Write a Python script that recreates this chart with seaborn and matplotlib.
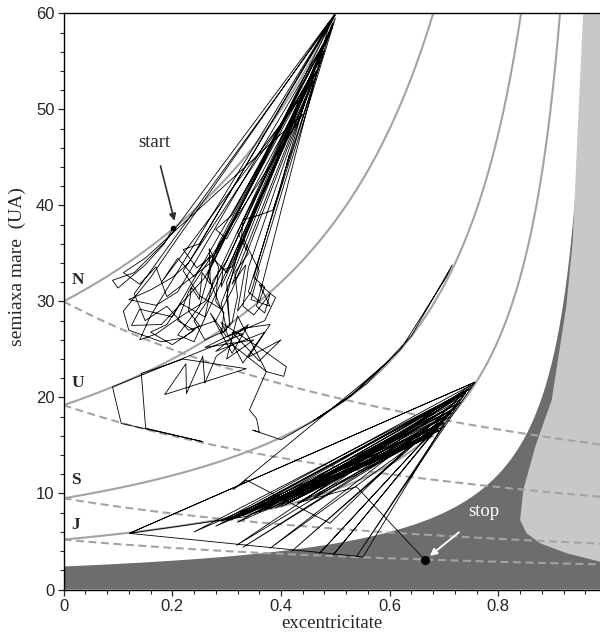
import numpy as np
import pandas as pd
import matplotlib
matplotlib.use("Agg")
import matplotlib.pyplot as plt
from matplotlib.ticker import MultipleLocator, FuncFormatter
import seaborn as sns

# ---------------- data ----------------
planet_names = ["J", "S", "U", "N"]
planet_a = [5.2, 9.5, 19.2, 30.0]          # semi-major axes of the giant planets (UA)
planet_label_a = [6.7, 11.4, 21.5, 32.2]   # where the letters sit

dark_q = 2.4   # perihelion limit of the dark zone

light_e = [0.956, 0.945, 0.937, 0.925, 0.898, 0.868, 0.846, 0.840, 0.852, 0.877, 0.926, 0.987, 1.05, 1.05]
light_a = [60.0, 46.8, 36.4, 29.5, 19.7, 14.9, 10.4, 7.24, 5.85, 4.81, 3.77, 2.90, 2.80, 60.0]

traj_e = [
    0.201, 0.185, 0.15, 0.10, 0.09, 0.13, 0.19, 0.50,
    0.23, 0.20, 0.16, 0.12, 0.17, 0.21, 0.485,
    0.26, 0.22, 0.18, 0.125, 0.14, 0.20, 0.47,
    0.27, 0.24, 0.26, 0.30, 0.29, 0.495,
    0.30, 0.27, 0.24, 0.21, 0.18, 0.46,
    0.33, 0.31, 0.28, 0.23, 0.19, 0.15, 0.13, 0.50,
    0.25, 0.22, 0.245, 0.28, 0.48,
    0.34, 0.36, 0.37, 0.35, 0.445,
    0.29, 0.293, 0.31, 0.327, 0.33, 0.36, 0.385, 0.40, 0.416, 0.41, 0.49,
    0.32, 0.30, 0.306, 0.30, 0.475,
    0.26, 0.22, 0.17, 0.14, 0.16, 0.50,
    0.27, 0.25, 0.21, 0.24, 0.455,
    0.34, 0.33, 0.35, 0.38, 0.37, 0.355, 0.49,
    0.20, 0.16, 0.11, 0.12, 0.18, 0.22, 0.25,
    0.23, 0.235, 0.25, 0.255, 0.27, 0.268, 0.285, 0.28, 0.295, 0.29, 0.31,
    0.32, 0.315, 0.34, 0.32, 0.47, 0.30, 0.28, 0.31, 0.48, 0.27, 0.19, 0.17,
    0.14, 0.11, 0.15, 0.44, 0.23, 0.21, 0.24, 0.20, 0.16, 0.19, 0.215, 0.26,
    0.275, 0.30, 0.495, 0.285, 0.265, 0.29, 0.25, 0.22, 0.465, 0.31, 0.335,
    0.32, 0.345, 0.50, 0.33, 0.36, 0.345, 0.38, 0.36, 0.39, 0.37,
    # between N and U
    0.30, 0.27, 0.31, 0.34, 0.28, 0.37, 0.33, 0.29, 0.36, 0.39, 0.41, 0.405, 0.373,
    0.32, 0.30, 0.35, 0.26, 0.33, 0.38, 0.34, 0.40, 0.36, 0.31,
    0.33, 0.09, 0.106, 0.256, 0.151, 0.143, 0.22, 0.336, 0.186, 0.225, 0.226,
    0.256, 0.26, 0.281, 0.31, 0.373, 0.342, 0.355, 0.36, 0.348, 0.40,
    # along Saturn's perihelion curve
    0.47, 0.557, 0.64, 0.715, 0.705, 0.62, 0.53, 0.46, 0.52, 0.60, 0.557,
    0.312, 0.336, 0.49,
    # Jupiter fan
    0.757, 0.121, 0.551, 0.70, 0.30, 0.74, 0.32, 0.68, 0.34, 0.72, 0.36, 0.75,
    0.318, 0.71, 0.33, 0.69, 0.38, 0.73, 0.42, 0.70, 0.471, 0.72, 0.496, 0.74,
    0.539, 0.757, 0.121, 0.336, 0.69, 0.28, 0.745, 0.24, 0.70, 0.40, 0.71,
    0.35, 0.71, 0.37, 0.735, 0.39, 0.70, 0.41, 0.72, 0.31, 0.745, 0.33, 0.69,
    0.44, 0.75, 0.29, 0.68, 0.46, 0.73, 0.36, 0.725, 0.38, 0.695, 0.32, 0.715,
    0.43, 0.539, 0.665,
]
traj_a = [
    37.6, 36.0, 33.8, 31.4, 32.2, 33.0, 36.4, 60.0,
    34.0, 32.5, 31.2, 30.2, 29.6, 31.0, 57.5,
    32.5, 30.0, 27.6, 27.5, 29.2, 28.4, 55.0,
    30.5, 28.0, 26.0, 27.0, 29.8, 59.0,
    33.0, 34.8, 32.6, 34.5, 32.0, 53.0,
    34.0, 31.2, 28.0, 27.0, 29.5, 28.0, 30.8, 59.8,
    36.0, 35.4, 33.5, 35.0, 56.2,
    31.0, 30.0, 31.5, 32.5, 51.0,
    31.5, 33.3, 33.6, 36.4, 38.5, 39.0, 39.5, 42.0, 45.4, 44.0, 58.0,
    35.0, 30.5, 27.4, 32.0, 56.0,
    30.0, 28.6, 26.6, 26.0, 28.5, 60.0,
    33.4, 29.5, 26.5, 25.8, 52.5,
    33.5, 29.5, 28.6, 30.8, 28.8, 29.5, 59.2,
    35.8, 32.5, 29.0, 27.0, 25.8, 26.2, 27.5,
    29.0, 31.5, 30.2, 33.0, 31.8, 35.5, 33.6, 30.0, 28.8, 26.6, 27.8,
    30.5, 33.0, 35.0, 37.2, 54.5, 36.5, 37.5, 39.0, 57.0, 34.0, 30.5, 33.6,
    31.8, 33.0, 34.5, 49.5, 31.0, 28.0, 27.0, 25.5, 26.8, 27.6, 29.8, 28.4,
    32.2, 34.2, 58.6, 36.0, 32.8, 29.2, 30.6, 33.2, 54.0, 31.8, 33.8,
    29.0, 31.0, 59.5, 36.6, 33.2, 30.2, 29.5, 31.8, 30.4, 28.0,
    26.3, 28.8, 24.6, 27.6, 24.8, 26.8, 23.6, 27.8, 25.2, 24.0, 23.2, 22.2, 22.7,
    28.5, 24.0, 26.0, 25.2, 27.2, 27.6, 24.2, 26.0, 23.8, 26.8,
    26.6, 21.1, 17.3, 15.4, 16.8, 22.5, 24.0, 23.0, 20.3, 23.5, 20.4,
    24.3, 21.5, 24.3, 25.5, 22.7, 18.7, 17.8, 16.4, 16.6, 15.6,
    17.9, 21.4, 26.4, 33.8, 32.6, 25.0, 20.2, 17.6, 19.8, 23.9, 21.8,
    10.4, 11.4, 6.9,
    21.6, 5.85, 3.4, 17.3, 7.2, 20.5, 7.0, 16.0, 8.0, 18.8, 8.2, 21.0,
    4.6, 18.0, 4.4, 17.0, 4.3, 19.5, 4.0, 17.8, 3.77, 19.0, 3.6, 20.5,
    3.45, 21.6, 5.85, 7.6, 16.5, 6.6, 20.8, 6.0, 17.4, 8.6, 18.2,
    7.9, 18.6, 8.3, 20.2, 8.5, 17.0, 8.9, 19.2, 7.3, 20.9, 7.7, 16.6,
    9.2, 21.3, 7.1, 16.2, 9.6, 19.8, 8.1, 19.4, 8.4, 17.2, 7.5, 18.4,
    9.0, 10.7, 3.07,
]

start_point = (0.201, 37.6)
stop_point = (0.665, 3.07)

# ---------------- style ----------------
sns.set_style("ticks")
plt.rcParams["font.family"] = ["Liberation Sans", "DejaVu Sans"]
serif = ["Liberation Serif", "DejaVu Serif"]

fig = plt.figure(figsize=(6.0, 6.38), dpi=100)
ax = fig.add_axes([0.106, 0.076, 0.894, 0.903])

XMAX = 0.987
e_grid = np.linspace(0.0, 0.9995, 800)

dark_col = "#6d6d6d"
light_col = "#c8c8c8"
curve_col = "#a3a3a3"

# dark zone (small perihelion)
ax.fill_between(e_grid, 0, np.minimum(dark_q / (1 - e_grid), 200), color=dark_col, lw=0, zorder=0)
# light zone
ax.fill(light_e, light_a, color=light_col, lw=0, zorder=0.5)

# perihelion / aphelion curves of the planets
rows = []
for name, a0 in zip(planet_names, planet_a):
    peri = a0 / (1 - e_grid)
    mask = peri < 62
    rows.append(pd.DataFrame({"e": e_grid[mask], "a": peri[mask], "curve": name + "_q", "kind": "q"}))
    rows.append(pd.DataFrame({"e": e_grid, "a": a0 / (1 + e_grid), "curve": name + "_Q", "kind": "Q"}))
curves = pd.concat(rows, ignore_index=True)

for cname, sub in curves.groupby("curve"):
    kind = sub["kind"].iloc[0]
    sns.lineplot(data=sub, x="e", y="a", sort=False, estimator=None, ax=ax,
                 color=curve_col, lw=1.5, zorder=2)
    line = ax.lines[-1]
    if kind == "Q":
        line.set_dashes((3.8, 2.2))

# trajectory
traj = pd.DataFrame({"e": traj_e, "a": traj_a})
sns.lineplot(data=traj, x="e", y="a", sort=False, estimator=None, ax=ax,
             color="black", lw=0.6, zorder=3)

ax.plot(*start_point, "o", color="black", ms=3, zorder=4)
ax.plot(*stop_point, "o", color="black", ms=5.5, zorder=4)

# planet letters
for name, ya in zip(planet_names, planet_label_a):
    ax.text(0.014, ya, name, family=serif, fontweight="bold", fontsize=12.5,
            ha="left", va="center", zorder=5)

# start / stop annotations
ax.annotate("start", xy=(0.204, 38.4), xytext=(0.167, 46.6),
            family=serif, fontsize=13.5, ha="center", va="center",
            arrowprops=dict(arrowstyle="-|>", color="#303030", lw=1.2,
                            shrinkA=9, shrinkB=0, mutation_scale=10),
            zorder=6)
ax.annotate("stop", xy=(0.674, 3.5), xytext=(0.774, 8.1),
            family=serif, fontsize=13.5, ha="center", va="center", color="white",
            arrowprops=dict(arrowstyle="-|>", color="white", lw=1.4,
                            shrinkA=10, shrinkB=0, mutation_scale=10),
            zorder=6)

# axes
ax.set_xlim(0, XMAX)
ax.set_ylim(0, 60)
ax.xaxis.set_major_locator(MultipleLocator(0.2))
ax.xaxis.set_minor_locator(MultipleLocator(0.04))
ax.yaxis.set_major_locator(MultipleLocator(10))
ax.yaxis.set_minor_locator(MultipleLocator(2))
ax.xaxis.set_major_formatter(FuncFormatter(lambda v, p: "0" if abs(v) < 1e-9 else f"{v:.1f}"))
ax.yaxis.set_major_formatter(FuncFormatter(lambda v, p: f"{int(round(v))}"))
ax.tick_params(which="major", direction="out", length=4.5, width=0.9, labelsize=12, pad=2)
ax.tick_params(which="minor", direction="out", length=3, width=0.8)
for s in ["left", "bottom", "top"]:
    ax.spines[s].set_visible(True)
    ax.spines[s].set_linewidth(1.0)
    ax.spines[s].set_color("black")
ax.spines["right"].set_visible(False)

ax.set_xlabel("excentricitate", family=serif, fontsize=13.5, labelpad=1)
ax.set_ylabel("semiaxa mare  (UA)", family=serif, fontsize=14, labelpad=5)
ax.yaxis.set_label_coords(-0.07, 0.56)

fig.savefig("out.png", dpi=100)
